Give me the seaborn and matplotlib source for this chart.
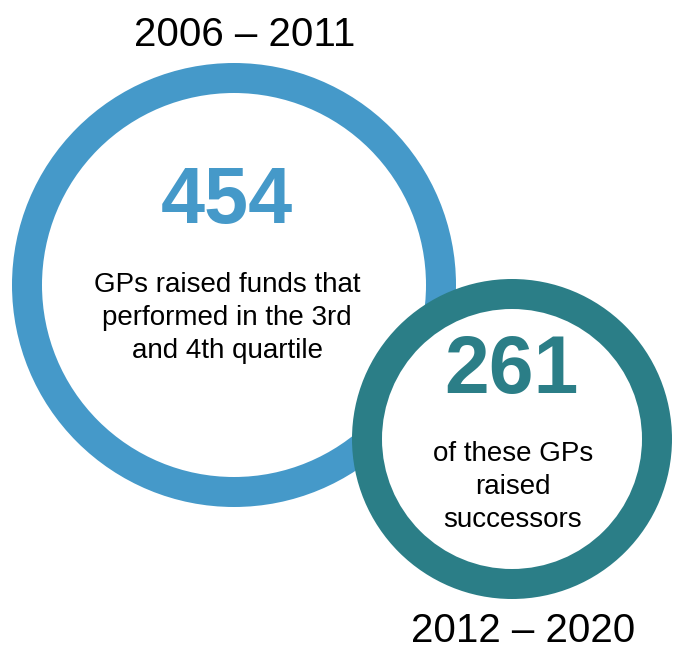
import matplotlib
matplotlib.use("Agg")
import matplotlib.pyplot as plt
import seaborn as sns
from matplotlib.patches import Circle

sns.set_theme(style="white")
plt.rcParams['font.family'] = ['Liberation Sans', 'DejaVu Sans']

# Data
periods = ["2006 \u2013 2011", "2012 \u2013 2020"]
counts = [454, 261]
descriptions = ["GPs raised funds that\nperformed in the 3rd\nand 4th quartile",
                "of these GPs\nraised\nsuccessors"]
colors = ["#4599C9", "#2B7E87"]

fig = plt.figure(figsize=(6.78, 6.5), dpi=100)
ax = fig.add_axes([0, 0, 1, 1])
ax.set_xlim(0, 678)
ax.set_ylim(650, 0)
ax.set_aspect('equal')
ax.axis('off')

# ring geometry (layout)
centers = [(234, 285), (512, 439)]
radii = [222, 160]
width = 30

for i, (c, r) in enumerate(zip(centers, radii)):
    ax.add_patch(Circle(c, r, facecolor=colors[i], edgecolor='none', zorder=2 * i + 1))
    ax.add_patch(Circle(c, r - width, facecolor='white', edgecolor='none', zorder=2 * i + 2))

# Big ring texts
ax.text(245, 35, periods[0], ha='center', va='center', fontsize=29, color='black', zorder=10)
ax.text(227, 203, str(counts[0]), ha='center', va='center', fontsize=57, fontweight='bold',
        color=colors[0], zorder=10)
ax.text(227, 318, descriptions[0], ha='center', va='center', fontsize=20, color='black',
        linespacing=1.36, zorder=10)

# Small ring texts
ax.text(511, 372, str(counts[1]), ha='center', va='center', fontsize=58, fontweight='bold',
        color=colors[1], zorder=10)
ax.text(513, 487, descriptions[1], ha='center', va='center', fontsize=20, color='black',
        linespacing=1.36, zorder=10)
ax.text(523, 631, periods[1], ha='center', va='center', fontsize=29, color='black', zorder=10)

fig.savefig("out.png", dpi=100)
